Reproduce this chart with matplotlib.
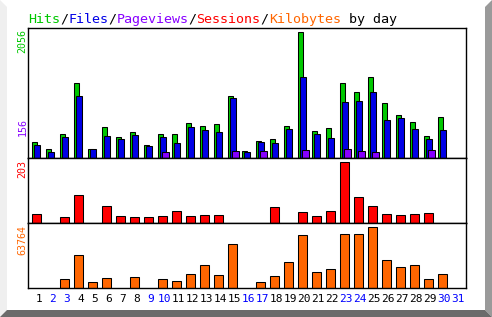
import matplotlib
matplotlib.use("Agg")
import matplotlib.pyplot as plt
from matplotlib.patches import Polygon

# daily values
days = list(range(1, 32))
hits = [261, 147, 392, 1224, 147, 506, 343, 424, 212, 392, 392, 571, 522, 555, 1012, 114,
        277, 310, 522, 2056, 441, 490, 1224, 1077, 1322, 897, 702, 587, 359, 669, 0]
files = [212, 98, 343, 1012, 147, 359, 310, 375, 196, 343, 245, 506, 457, 424, 979, 98,
         261, 245, 473, 1322, 392, 326, 914, 930, 1077, 620, 653, 473, 310, 457, 0]
pages = [0, 0, 0, 0, 0, 0, 0, 0, 0, 98, 0, 0, 0, 0, 114, 0,
         114, 0, 0, 131, 0, 0, 156, 114, 98, 0, 0, 0, 131, 0, 0]
sessions = [30, 0, 20, 93, 0, 57, 23, 20, 20, 23, 40, 23, 27, 27, 0, 0,
            0, 53, 0, 37, 23, 40, 203, 87, 57, 30, 27, 30, 33, 0, 0]
kbytes = [0, 0, 9407, 34493, 6271, 10453, 0, 11498, 0, 9407, 7317, 14634, 24041, 13588, 45991, 0,
          6271, 12543, 27175, 55396, 16723, 19859, 56441, 56441, 63764, 29266, 21949, 24041, 9407, 14634, 0]
weekend = [2, 3, 9, 10, 16, 17, 23, 24, 30, 31]

max_labels = ["2056", "156", "203", "63764"]

GREEN = "#00c800"
BLUE = "#0000e6"
PURPLE = "#8800ff"
RED = "#ff0000"
ORANGE = "#ff6600"

W, H = 492, 317
fig = plt.figure(figsize=(W / 100, H / 100), dpi=100)
fig.patch.set_facecolor("white")


def fx(px):
    return px / W


def fy(py):
    return 1 - py / H


# bevelled frame
fig.patches.append(Polygon([(fx(0), fy(0)), (fx(7), fy(7)), (fx(7), fy(310)), (fx(0), fy(317))],
                           closed=True, transform=fig.transFigure, facecolor="#efefef", edgecolor="none"))
fig.patches.append(Polygon([(fx(492), fy(0)), (fx(485), fy(7)), (fx(485), fy(310)), (fx(492), fy(317))],
                           closed=True, transform=fig.transFigure, facecolor="#9a9a9a", edgecolor="none"))
fig.patches.append(Polygon([(fx(0), fy(317)), (fx(7), fy(310)), (fx(485), fy(310)), (fx(492), fy(317))],
                           closed=True, transform=fig.transFigure, facecolor="#6b6b6b", edgecolor="none"))

left, right = 28.3, 465.7
panels = [(28.3, 158.3), (158.3, 223.3), (223.3, 288.3)]
axes = []
for top, bot in panels:
    ax = fig.add_axes([fx(left), fy(bot), (right - left) / W, (bot - top) / H])
    ax.set_xlim(0.24, 31.48)
    ax.set_xticks([])
    ax.set_yticks([])
    for s in ax.spines.values():
        s.set_linewidth(1.0)
        s.set_color("black")
    axes.append(ax)

lw = 0.75


def draw(ax, vals, off, width, color):
    xs = [d + off for d, v in zip(days, vals) if v > 0]
    ys = [v for v in vals if v > 0]
    ax.bar(xs, ys, width=width, align="edge", color=color, edgecolor="black", linewidth=lw)


ax1, ax2, ax3 = axes
draw(ax1, hits, -0.52, 0.40, GREEN)
draw(ax1, files, -0.36, 0.45, BLUE)
draw(ax1, pages, -0.19, 0.48, PURPLE)
ax1.set_ylim(0, 2056 * 130 / 126)

draw(ax2, sessions, -0.48, 0.60, RED)
ax2.set_ylim(0, 203 * 65 / 61)

draw(ax3, kbytes, -0.50, 0.62, ORANGE)
ax3.set_ylim(0, 63764 * 65 / 61)

# rotated max labels on the left
mono = "DejaVu Sans Mono"
for txt, ytop, col in zip(max_labels, [29, 118, 160, 225], [GREEN, PURPLE, RED, ORANGE]):
    fig.text(fx(22.5), fy(ytop), txt, rotation=90, ha="center", va="top",
             color=col, family=mono, fontsize=7.2)

# day labels
for d in days:
    px = 39 + (d - 1) * 13.95
    fig.text(fx(px), fy(299), str(d), ha="center", va="center", family=mono, fontsize=8,
             color="#0000ff" if d in weekend else "black")

# multi-coloured title, monospace so characters line up by index
title_parts = [("Hits", GREEN), ("/", "black"), ("Files", BLUE), ("/", "black"),
               ("Pageviews", PURPLE), ("/", "black"), ("Sessions", RED), ("/", "black"),
               ("Kilobytes", ORANGE), (" by day", "black")]
tsize = 9.6
char_w = 0.602 * tsize * 100 / 72
x = 28.0
for part, col in title_parts:
    fig.text(fx(x), fy(22.7), part, ha="left", va="baseline", family=mono,
             fontsize=tsize, color=col)
    x += len(part) * char_w

plt.savefig("out.png", dpi=100)
